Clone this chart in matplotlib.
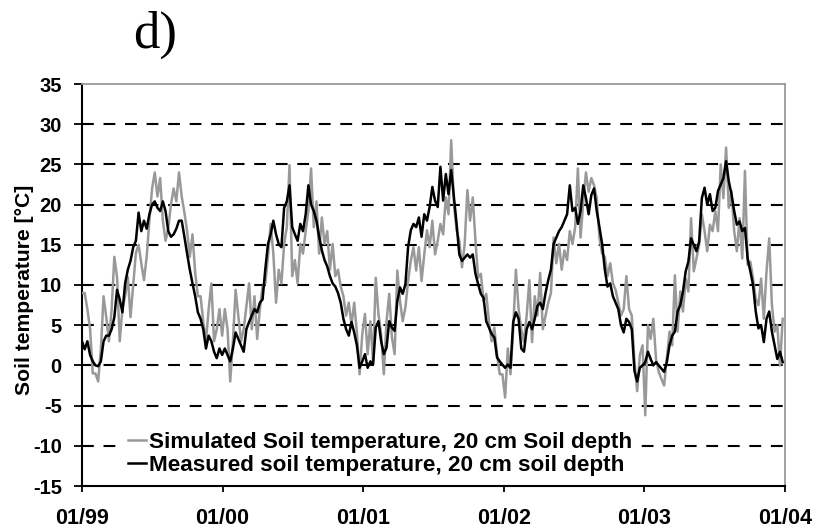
import numpy as np
import matplotlib
matplotlib.use("Agg")
import matplotlib.pyplot as plt
import matplotlib.dates as mdates

# Weekly soil temperature at 20 cm depth, 1999-2003 (degC)
measured_1999 = [3, 2, 3, 1.3, 0.5, 0, -0.1, 0.5, 3, 3.7, 3.7, 4.5, 6, 9.4, 8.2, 6.6, 10.2, 11.9, 13, 14.7,
                 15.5, 19, 16.7, 18, 17, 18.8, 20, 20.4, 19.6, 19.2, 20.4, 19.2, 16.7, 16, 16.3, 17, 18, 18, 16,
                 13.9, 11.9, 10.2, 8.6, 6.6, 5.8, 4.5, 2.1, 3.7, 3, 1.7, 0.9, 2.1]
measured_2000 = [1.3, 2.1, 1.3, 0.5, 2.1, 4.1, 3.3, 2.5, 1.7, 4.5, 5.4, 6.2, 7, 6.6, 7.8, 8.2, 11.9, 15.1, 16.3,
                 18, 16.3, 15.1, 14.7, 19.6, 20.4, 22.4, 17.2, 16.3, 15.5, 17.6, 16.7, 18.8, 22.4, 20, 19.2, 18,
                 16, 14.3, 13.1, 12.3, 11.1, 10.2, 9.8, 9, 7.8, 5.8, 4.5, 3.7, 5.4, 4.1, 2.5, -0.3]
measured_2001 = [0.5, 1.4, -0.3, 0.5, 0.1, 4.7, 5.5, 3, 1.4, 2.2, 5.5, 4.7, 4.3, 8, 9.7, 8.9, 10.1, 14.7, 16.8,
                 17.6, 17.2, 18.4, 16, 18.8, 18, 19.7, 22.2, 20.5, 19.7, 24.7, 20.5, 23.8, 21.3, 24.3, 20.9, 17.6,
                 13.8, 13, 13.4, 13.8, 13.4, 13.8, 11.4, 10.1, 8.9, 8.4, 5.5, 4.7, 3.9, 3.5, 1, 0.5]
measured_2002 = [0.1, -0.3, 0.1, -0.3, 5.4, 6.6, 5.8, 2.1, 1.7, 4.5, 5.4, 4.5, 5.8, 7.4, 7.8, 7, 9, 10.6, 11.9,
                 15.1, 15.9, 16.7, 17.2, 18, 18.8, 22.4, 19.2, 19.6, 17.6, 19.2, 22.4, 20.8, 18.8, 21.2, 22, 19.2,
                 17.2, 15.1, 11.9, 9.8, 10.2, 8.6, 7.8, 7, 5, 4.1, 5.8, 5.4, 4.5, -0.7, -2, -0.3]
measured_2003 = [0, 0.4, 1.7, 0.8, 0, 0.4, 0, -0.4, -0.8, 0.4, 2.5, 3.7, 4.2, 6.7, 7.5, 9.2, 11.7, 12.9, 15.8,
                 15, 14.2, 15.4, 20.8, 22.1, 20, 21.3, 19.2, 19.6, 21.7, 22.5, 23.3, 25.4, 22.9, 21.3, 19.2, 17.5,
                 17.9, 16.7, 17.1, 13.3, 11.7, 10, 6.7, 4.6, 5, 2.9, 5.8, 6.7, 4.2, 2.5, 0.8, 1.7, 0.4]

simulated_1999 = [9, 9, 7, 4.5, -1, -1, -2, 2, 8.6, 6, 3, 7, 13.5, 11, 3, 7, 8.6, 11, 6, 10, 14, 15, 12.7, 10.6,
                  13.5, 18, 22, 24, 21, 23.3, 18, 15.5, 17, 20, 22, 20.4, 24, 21, 19, 16.7, 13.5, 16.3, 11.5,
                  8.6, 8.6, 5.4, 3, 7, 10.2, 3, 4.5, 7]
simulated_2000 = [3.7, 7, 4.5, -2, 3, 9.4, 6.2, 3, 4.5, 7.4, 10.2, 4.5, 8.6, 3.3, 7, 9.8, 10.2, 13.5, 17.6, 13.9,
                  7.8, 11.9, 10.2, 15.1, 17.2, 24.9, 11.1, 13.1, 10.2, 15.1, 13.9, 16.7, 19.2, 24.5, 17.2, 20.4,
                  13.9, 18.4, 15.1, 16.7, 11.9, 15.1, 11.1, 11.9, 9.8, 8.6, 6.2, 7.8, 5, 7.8, 4.1, -1.1]
simulated_2001 = [3.9, 6.4, 1.4, 5.5, 0.5, 10.9, 6.4, 3.9, -1.1, 5.5, 8.9, 3.5, 1.4, 11.8, 8, 5.5, 7.2, 10.5, 13,
                  14.7, 11.8, 14.7, 10.5, 13.8, 16.8, 14.7, 18, 13.8, 15.5, 17.6, 16.3, 20.9, 18.8, 28, 20.1, 16.8,
                  15.5, 12.2, 15.1, 21.8, 18, 20.9, 15.5, 10.9, 11.4, 8, 8.9, 5.5, 3, 4.7, 1.4, -1.1]
simulated_2002 = [-1.1, -4, 2.1, -1.1, 4.5, 11.9, 7, 4.5, 2.9, 6.2, 10.6, 2.9, 8.6, 6.2, 11.5, 4.5, 6.2, 7.8, 9,
                  15.9, 12.7, 15.1, 11.9, 14.3, 13.1, 16.7, 15.1, 17.2, 24.5, 15.9, 20.4, 24, 21.6, 23.3, 22.4,
                  20.8, 15.9, 13.9, 13.5, 11.1, 12.7, 10.2, 9.4, 7.8, 6.2, 7, 11.1, 7, 6.2, 0.5, -3.2, 1.3]
simulated_2003 = [2.5, -6.2, 5, 3.3, 5.8, 0.8, -0.8, -1.7, -2.5, 0.8, 4.2, 2.5, 11.2, 4.2, 9.2, 6.7, 10.8, 9.2,
                  18.3, 11.7, 13.3, 15, 18.8, 16.7, 14.2, 17.5, 16.7, 19.2, 16.7, 25, 20.8, 27.1, 19.6, 21.7, 16.7,
                  14.2, 18.3, 13.3, 24.2, 12.5, 12.9, 10.8, 8.3, 7.5, 10.8, 5.8, 11.7, 15.8, 7.5, 4.2, 5, 0, 5.8]

measured = np.array(measured_1999 + measured_2000 + measured_2001 + measured_2002 + measured_2003)
simulated = np.array(simulated_1999 + simulated_2000 + simulated_2001 + simulated_2002 + simulated_2003)
dates = np.datetime64("1999-01-01") + np.arange(len(measured)) * np.timedelta64(7, "D")

label_sim = "Simulated Soil temperature, 20 cm Soil depth"
label_meas = "Measured soil temperature, 20 cm soil depth"
y_ticks = [-15, -10, -5, 0, 5, 10, 15, 20, 25, 30, 35]
x_ticks = [np.datetime64(f"{y}-01-01") for y in range(1999, 2005)]

plt.rcParams["font.family"] = ["Liberation Sans", "DejaVu Sans"]
plt.rcParams["lines.scale_dashes"] = False
plt.rcParams["axes.unicode_minus"] = False

fig = plt.figure(figsize=(8.13, 5.31), dpi=100)
ax = fig.add_axes([82 / 813, 1 - 486 / 531, (785 - 82) / 813, (486 - 84) / 531])

ax.plot(dates, simulated, color="#999999", lw=1.8, label=label_sim, zorder=3)
ax.plot(dates, measured, color="black", lw=1.8, label=label_meas, zorder=4)

ax.set_xlim(x_ticks[0], x_ticks[-1])
ax.set_ylim(-15, 35)
ax.set_yticks(y_ticks)
ax.set_xticks(x_ticks)
ax.xaxis.set_major_formatter(mdates.DateFormatter("%m/%y"))

ax.grid(axis="y", color="black", lw=1.5, linestyle=(0, (8.5, 7.0)), zorder=1)
gl = ax.get_ygridlines()
gl[0].set_visible(False)
gl[-1].set_visible(False)

for side in ("top", "right"):
    ax.spines[side].set_color("#9a9a9a")
    ax.spines[side].set_linewidth(1.3)
for side in ("left", "bottom"):
    ax.spines[side].set_color("black")
    ax.spines[side].set_linewidth(1.5)

ax.tick_params(axis="y", direction="out", length=5.5, width=1.3, pad=9,
               labelsize=14.5)
ax.tick_params(axis="x", direction="out", length=4.5, width=1.3, pad=11,
               labelsize=15.5)
for lab in ax.get_xticklabels() + ax.get_yticklabels():
    lab.set_fontweight("bold")

ax.set_ylabel("Soil temperature [°C]", fontsize=15.2, fontweight="bold")
ax.yaxis.set_label_coords(-0.068, 0.488)

leg = ax.legend(loc="center left", bbox_to_anchor=(0.058, 0.08), frameon=True,
                facecolor="white", edgecolor="none", framealpha=1, fancybox=False,
                prop={"family": "Liberation Sans", "weight": "bold", "size": 16.2},
                handlelength=0.8, handletextpad=0.1, labelspacing=0.1, borderpad=0.25,
                borderaxespad=0)
leg.set_zorder(5)

fig.text(155 / 813, 1 - 48 / 531, "d)", fontsize=38, family="Liberation Serif",
         ha="center", va="baseline")

fig.savefig("out.png", dpi=100)
